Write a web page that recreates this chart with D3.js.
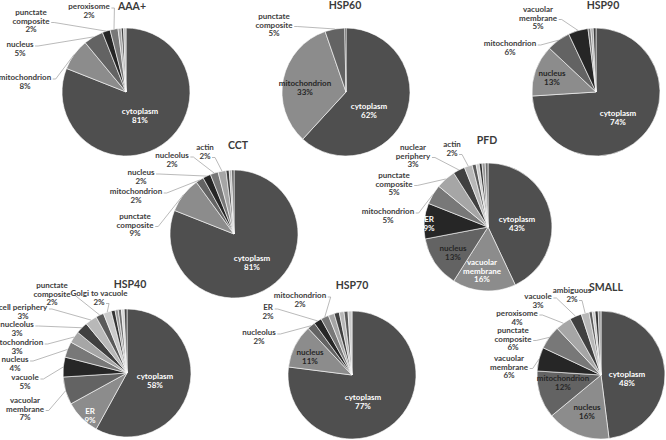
<!DOCTYPE html>
<html><head><meta charset="utf-8">
<script src="https://cdn.jsdelivr.net/npm/d3@7/dist/d3.min.js"></script>
<style>
html,body{margin:0;padding:0;background:#fff;}
svg{display:block;}
text{font-family:Lato,"Liberation Sans",sans-serif;font-weight:bold;}
</style></head>
<body>
<svg id="c" width="666" height="440"></svg>
<script>
// ---- data (percent of proteins per localisation; unlabeled = tiny slivers) ----
const chartNames = ["AAA+","HSP60","HSP90","CCT","PFD","HSP40","HSP70","SMALL"];

const aaaNames   = ["cytoplasm","mitochondrion","nucleus","punctate composite","peroxisome","","",""];
const aaaValues  = [81,8,5,2,2,0.8,0.6,0.6];

const hsp60Names  = ["cytoplasm","mitochondrion","punctate composite",""];
const hsp60Values = [62,33,5,0.3];

const hsp90Names  = ["cytoplasm","nucleus","mitochondrion","vacuolar membrane","","",""];
const hsp90Values = [74,13,6,5,0.7,0.6,0.7];

const cctNames  = ["cytoplasm","punctate composite","mitochondrion","nucleus","nucleolus","actin","","",""];
const cctValues = [81,9,2,2,2,2,0.8,0.6,0.6];

const pfdNames  = ["cytoplasm","vacuolar membrane","nucleus","ER","mitochondrion","punctate composite","nuclear periphery","actin","","","","",""];
const pfdValues = [43,16,13,9,5,5,3,2,1.0,0.8,0.7,0.8,0.7];

const hsp40Names  = ["cytoplasm","ER","vacuolar membrane","vacuole","nucleus","mitochondrion","nucleolus","cell periphery","punctate composite","Golgi to vacuole","","","","",""];
const hsp40Values = [58,9,7,5,4,3,3,3,2,2,1.0,0.8,0.8,0.7,0.7];

const hsp70Names  = ["cytoplasm","nucleus","nucleolus","ER","mitochondrion","","","","",""];
const hsp70Values = [77,11,2,2,2,1.5,1.3,1.2,1.0,1.0];

const smallNames  = ["cytoplasm","nucleus","mitochondrion","vacuolar membrane","punctate composite","peroxisome","vacuole","ambiguous","","","",""];
const smallValues = [48,16,12,6,6,4,3,2,0.8,0.7,0.8,0.7];

const seriesNames  = [aaaNames,hsp60Names,hsp90Names,cctNames,pfdNames,hsp40Names,hsp70Names,smallNames];
const seriesValues = [aaaValues,hsp60Values,hsp90Values,cctValues,pfdValues,hsp40Values,hsp70Values,smallValues];

// ---- layout (positions / styles only) ----
const R = 64;
const centers = [[126,92],[346,92],[596,92],[234,234],[488,227],[127,373],[352,375],[601,375]];
const titleOffsets = [[6,-86],[-1,-87],[7,-87],[4,-89],[-1,-87],[3,-89],[0,-90],[5,-88]];
// label offsets relative to pie centre, keyed by slice index
const labelOffsets = [
  {0:[14,19],1:[-101,-15],2:[-106,-48],3:[-95,-80],4:[-37,-86]},
  {0:[23,14],1:[-41,-9],2:[-72,-76]},
  {0:[22,21],1:[-44,-19],2:[-86,-49],3:[-58,-83]},
  {0:[18,24],1:[-99,-18],2:[-98,-43],3:[-93,-62],4:[-62,-79],5:[-29,-87]},
  {0:[29,-8],1:[-6,35],2:[-35,21],3:[-59,-8],4:[-100,-16],5:[-94,-52],6:[-75,-80],7:[-36,-83]},
  {0:[28,3],1:[-37,38],2:[-102,27],3:[-102,4],4:[-112,-14],5:[-110,-31],6:[-110,-49],7:[-104,-66],8:[-75,-88],9:[-28,-80]},
  {0:[11,22],1:[-42,-23],2:[-93,-43],3:[-84,-68],4:[-52,-80]},
  {0:[26,-1],1:[-14,32],2:[-38,3],3:[-92,-17],4:[-88,-45],5:[-84,-62],6:[-63,-79],7:[-29,-85]}
];
// labels whose leader starts at the percentage line
const leaderFromPct = [[],[],[],[5],[7],[9],[],[7]];
// inside labels drawn in white
const whiteLabels = [[0],[0],[0],[0],[0,1,3],[0,1],[0],[0]];
const palette = ["#4f4f4f","#8c8c8c","#636363","#262626","#787878","#a6a6a6","#404040","#b8b8b8","#5a5a5a","#cbcbcb","#333333","#999999","#6e6e6e","#d4d4d4","#474747"];
const wrapNames = new Set(["punctate composite","vacuolar membrane","nuclear periphery"]);
const FS = 8, LH = 8.5;

const svg = d3.select("#c");
const pie = d3.pie().sort(null).value(d => d.v);
const arc = d3.arc().innerRadius(0).outerRadius(R);

chartNames.forEach((title, ci) => {
  const [cx, cy] = centers[ci];
  const data = seriesValues[ci].map((v, i) => ({name: seriesNames[ci][i], v}));
  const arcs = pie(data);
  const g = svg.append("g").attr("transform", `translate(${cx},${cy})`);
  g.selectAll("path.slice").data(arcs).join("path")
    .attr("class","slice")
    .attr("d", arc)
    .attr("fill", (d,i) => palette[i % palette.length])
    .attr("stroke", "#fff").attr("stroke-width", 0.6);

  g.append("text").attr("x", titleOffsets[ci][0]).attr("y", titleOffsets[ci][1])
    .attr("text-anchor","middle").attr("dominant-baseline","central")
    .attr("font-size", 10.5).attr("fill","#3a3a3a").text(title);

  const offs = labelOffsets[ci];
  arcs.forEach((a, i) => {
    if (!offs[i] || !a.data.name) return;
    const [dx, dy] = offs[i];
    const lines = wrapNames.has(a.data.name) ? a.data.name.split(" ") : [a.data.name];
    lines.push(Math.round(a.data.v) + "%");
    const inside = Math.hypot(dx, dy) < R - 4;
    const white = whiteLabels[ci].includes(i);
    const col = inside ? (white ? "#ffffff" : "#262626") : "#404040";
    const t = g.append("text").attr("text-anchor","middle").attr("font-size", FS).attr("fill", col);
    lines.forEach((ln, k) => {
      t.append("tspan").attr("x", dx).attr("y", dy + k*LH).attr("dominant-baseline","central").text(ln);
    });
    if (!inside) {
      const fromPct = leaderFromPct[ci].includes(i);
      const li = fromPct ? lines.length - 1 : lines.length - 2;
      const tsp = t.selectAll("tspan").nodes()[li];
      const bb = tsp.getBBox();
      const sx = bb.x + bb.width + 1, sy = dy + li*LH + 2;
      const ang = (a.startAngle + a.endAngle)/2;
      const ex = Math.sin(ang) * R, ey = -Math.cos(ang) * R;
      g.insert("polyline", "text")
        .attr("points", `${sx},${sy} ${sx+3},${sy} ${ex},${ey}`)
        .attr("fill","none").attr("stroke","#a8a8a8").attr("stroke-width",0.8);
    }
  });
});
</script>
</body></html>
